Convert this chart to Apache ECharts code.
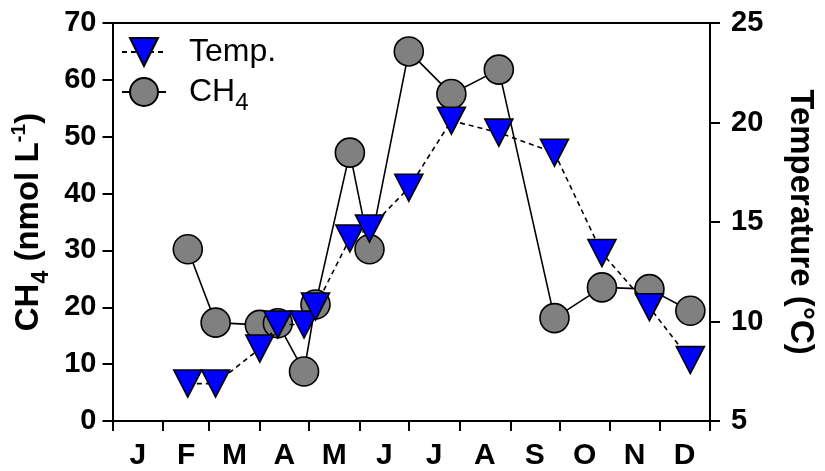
<!DOCTYPE html>
<html>
<head>
<meta charset="utf-8">
<script src="https://cdn.jsdelivr.net/npm/echarts@6/dist/echarts.min.js"></script>
<style>
  html, body { margin: 0; padding: 0; background: #fff; }
  #chart { width: 825px; height: 471px; }
</style>
</head>
<body>
<div id="chart"></div>
<script>
// Sampling dates (day of year) shared by both series
const sampleDays = [46, 63, 90, 101, 117, 124, 145, 157, 181, 207, 236, 270, 299, 328, 353];
// Dissolved methane, nmol L-1
const ch4Values = [30.2, 17.3, 16.9, 17.2, 8.7, 20.5, 47.2, 30.2, 65.0, 57.5, 61.8, 18.1, 23.5, 23.2, 19.4];
// Water temperature, °C
const tempValues = [6.88, 6.88, 8.64, 9.85, 9.85, 10.75, 14.17, 14.67, 16.72, 20.09, 19.49, 18.48, 13.44, 10.72, 8.06];

// Month axis: boundaries and labels
const monthLabels = ['J', 'F', 'M', 'A', 'M', 'J', 'J', 'A', 'S', 'O', 'N', 'D'];
const monthStarts = [0, 31, 59, 90, 120, 151, 181, 212, 243, 273, 304, 334, 365];
const monthMids = monthLabels.map((m, i) => (monthStarts[i] + monthStarts[i + 1]) / 2);

const FONT = 'Liberation Sans, Arial, Helvetica, sans-serif';

const chart = echarts.init(document.getElementById('chart'), null, { renderer: 'canvas' });

const line = () => ({ show: true, onZero: false, lineStyle: { color: '#000', width: 2 } });
const ticks = () => ({ show: true, inside: false, length: 10, lineStyle: { color: '#000', width: 2 } });

chart.setOption({
  animation: false,
  backgroundColor: '#fff',
  grid: { left: 112.5, right: 112.5, top: 23, bottom: 48.5, containLabel: false },
  legend: {
    left: 121,
    top: 36,
    padding: 0,
    orient: 'vertical',
    itemWidth: 44,
    itemHeight: 35,
    itemGap: 8,
    iconRotate: 'inherit',
    data: ['Temp.', 'CH4'],
    formatter: name => name === 'CH4' ? '{a|CH}{s|4}' : '{a|' + name + '}',
    textStyle: {
      fontFamily: FONT,
      rich: {
        a: { fontSize: 32, fontFamily: FONT, color: '#000', lineHeight: 35, padding: [0, 0, 0, 18] },
        s: { fontSize: 24, fontFamily: FONT, color: '#000', lineHeight: 35, verticalAlign: 'bottom', padding: [0, 0, -6, 0] }
      }
    }
  },
  xAxis: [
    {
      type: 'value',
      min: 0,
      max: 365,
      position: 'bottom',
      axisLine: line(),
      axisTick: Object.assign(ticks(), { customValues: monthStarts }),
      splitLine: { show: false },
      axisLabel: {
        customValues: monthMids,
        formatter: v => {
          const i = monthMids.indexOf(v);
          return i >= 0 ? monthLabels[i] : '';
        },
        fontFamily: FONT,
        fontWeight: 'bold',
        fontSize: 30,
        color: '#000',
        margin: 20
      }
    },
    {
      type: 'value',
      min: 0,
      max: 365,
      position: 'top',
      axisLine: line(),
      axisTick: { show: false },
      axisLabel: { show: false },
      splitLine: { show: false }
    }
  ],
  yAxis: [
    {
      type: 'value',
      min: 0,
      max: 70,
      interval: 10,
      position: 'left',
      axisLine: line(),
      axisTick: ticks(),
      minorTick: { show: false },
      splitLine: { show: false },
      axisLabel: { fontFamily: FONT, fontWeight: 'bold', fontSize: 29, color: '#000', margin: 16 },
      name: '{b|CH}{s|4}{b| (nmol L}{p|-1}{b|)}',
      nameLocation: 'middle',
      nameGap: 62,
      nameRotate: 90,
      nameTextStyle: {
        fontFamily: FONT,
        rich: {
          b: { fontSize: 33, fontWeight: 'bold', fontFamily: FONT, color: '#000', lineHeight: 38 },
          s: { fontSize: 23, fontWeight: 'bold', fontFamily: FONT, color: '#000', lineHeight: 38, verticalAlign: 'bottom', padding: [0, 0, -5, 0] },
          p: { fontSize: 21, fontWeight: 'bold', fontFamily: FONT, color: '#000', lineHeight: 38, verticalAlign: 'top', padding: [-2, 0, 0, 0] }
        }
      }
    },
    {
      type: 'value',
      min: 5,
      max: 25,
      interval: 5,
      position: 'right',
      axisLine: line(),
      axisTick: ticks(),
      minorTick: { show: false },
      splitLine: { show: false },
      axisLabel: { fontFamily: FONT, fontWeight: 'bold', fontSize: 29, color: '#000', margin: 21 },
      name: 'Temperature (°C)',
      nameLocation: 'middle',
      nameGap: 74,
      nameRotate: -90,
      nameTextStyle: { fontFamily: FONT, fontWeight: 'bold', fontSize: 33, color: '#000' }
    }
  ],
  series: [
    {
      name: 'CH4',
      type: 'line',
      xAxisIndex: 0,
      yAxisIndex: 0,
      data: sampleDays.map((d, i) => [d, ch4Values[i]]),
      symbol: 'circle',
      symbolSize: 29,
      lineStyle: { color: '#000', width: 1.6, type: 'solid' },
      itemStyle: { color: '#808080', borderColor: '#000', borderWidth: 1.6 },
      z: 2
    },
    {
      name: 'Temp.',
      type: 'line',
      xAxisIndex: 0,
      yAxisIndex: 1,
      data: sampleDays.map((d, i) => [d, tempValues[i]]),
      symbol: 'triangle',
      symbolRotate: 180,
      symbolSize: [28, 27],
      lineStyle: { color: '#000', width: 1.6, type: [5, 4] },
      itemStyle: { color: '#0000ff', borderColor: '#000', borderWidth: 1.6 },
      z: 3
    }
  ]
});
</script>
</body>
</html>
